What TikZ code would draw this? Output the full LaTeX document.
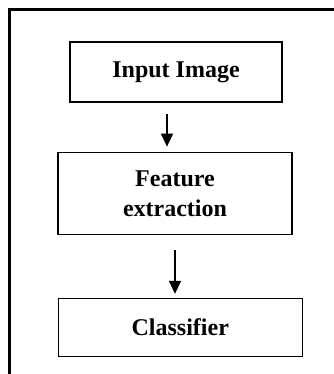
\documentclass[tikz,border=0pt]{standalone}
\usepackage{fontspec}
\setmainfont{Liberation Serif}
\usetikzlibrary{arrows.meta}

\tikzset{
  stagebox/.style={draw, line width=1.3pt, inner sep=0pt, align=center,
    font=\fontsize{24}{30}\selectfont\bfseries},
  flowarrow/.style={-{Triangle[width=12pt,length=13pt]}, line width=1.4pt}
}

\begin{document}
\begin{tikzpicture}[x=1pt, y=-1pt]
  \useasboundingbox (0,0) rectangle (333,374);

  % 1. outer frame (only the left and top edges fall inside the page)
  \draw[line width=2.7pt] (9.7,380) -- (9.7,9.7) -- (340,9.7);

  % 2. stages
  \node[stagebox, minimum width=212pt, minimum height=60pt] (input) at (176,72) {Input Image};
  \node[stagebox, minimum width=234pt, minimum height=82pt] (feature) at (175,193.3) {Feature\\extraction};
  \node[stagebox, minimum width=244pt, minimum height=58pt] (classifier) at (180.3,327.5) {Classifier};

  % 3. arrows between stages
  \draw[flowarrow, shorten <=11pt, shorten >=5pt]
    ([xshift=-9pt]input.south) -- ([xshift=-9pt]input.south |- feature.north);
  \draw[flowarrow, shorten <=15pt, shorten >=4pt]
    (feature.south) -- (feature.south |- classifier.north);
\end{tikzpicture}
\end{document}
